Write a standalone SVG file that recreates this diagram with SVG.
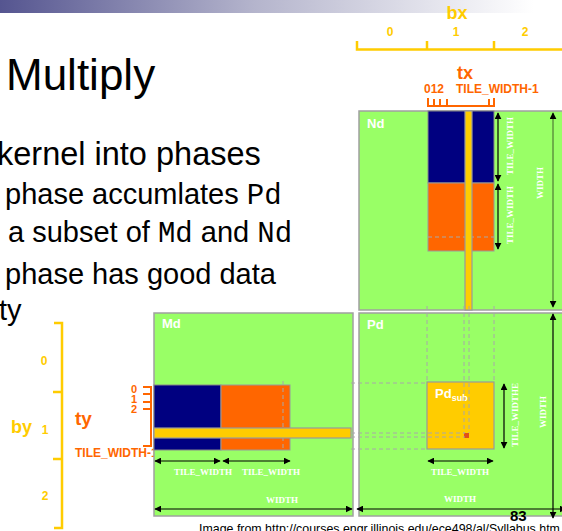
<svg xmlns="http://www.w3.org/2000/svg" width="562" height="531" viewBox="0 0 562 531">
  <defs>
    <linearGradient id="hdr" x1="0" y1="0" x2="1" y2="0">
      <stop offset="0" stop-color="#555590"/>
      <stop offset="0.45" stop-color="#b4b4cc"/>
      <stop offset="0.95" stop-color="#ffffff"/>
    </linearGradient>
    <marker id="ah" viewBox="0 0 10 10" refX="9" refY="5" markerWidth="7" markerHeight="7" markerUnits="userSpaceOnUse" orient="auto-start-reverse">
      <path d="M0,0 L10,5 L0,10 z" fill="#000"/>
    </marker>
    <style>
      .txt{font-family:"Liberation Sans",Arial,sans-serif;fill:#000}
      .mono{font-family:"Liberation Mono","Courier New",monospace}
      .mat{fill:#99FF66;stroke:#a0a0a0;stroke-width:1.5}
      .blue{fill:#000080;stroke:#888;stroke-width:1}
      .org{fill:#FF6600;stroke:#999;stroke-width:1}
      .gold{fill:#FFCC00;stroke:#999;stroke-width:1.2}
      .lbl{font-family:"Liberation Sans",Arial,sans-serif;font-weight:bold;fill:#fff;font-size:13px}
      .dim{font-family:"Liberation Serif","Times New Roman",serif;font-weight:bold;fill:#fff;font-size:9px}
      .arr{stroke:#000;stroke-width:1.2;fill:none;marker-start:url(#ah);marker-end:url(#ah)}
      .dash{stroke:#a8a8a8;stroke-width:1;stroke-dasharray:4 3;fill:none}
      .gl{stroke:#FFCC00;stroke-width:2.5;fill:none}
      .ol{stroke:#FF6600;stroke-width:2;fill:none}
      .gt{font-family:"Liberation Sans",Arial,sans-serif;font-weight:bold;fill:#FFCC00}
      .ot{font-family:"Liberation Sans",Arial,sans-serif;font-weight:bold;fill:#FF6600}
    </style>
  </defs>

  <rect width="562" height="531" fill="#fff"/>
  <rect id="header" x="0" y="0" width="562" height="13" fill="url(#hdr)"/>

  <g id="title">
    <text class="txt" x="6" y="90" font-size="44">Multiply</text>
  </g>

  <g id="bullets" class="txt">
    <text x="-3" y="165" font-size="32.5">kernel into phases</text>
    <text x="5" y="204" font-size="29">phase accumlates <tspan class="mono">Pd</tspan></text>
    <text x="8" y="242" font-size="29">a subset of <tspan class="mono">Md</tspan> and <tspan class="mono">Nd</tspan></text>
    <text x="5" y="284" font-size="29">phase has good data</text>
    <text x="-1" y="320" font-size="29">ty</text>
  </g>

  <g id="bx-axis">
    <path class="gl" d="M357,41 V49.5 H564 M427,41 V49.5 M494,41 V49.5"/>
    <text class="gt" x="457" y="19" font-size="18" text-anchor="middle">bx</text>
    <text class="gt" x="390" y="36" font-size="12" text-anchor="middle">0</text>
    <text class="gt" x="456" y="36" font-size="12" text-anchor="middle">1</text>
    <text class="gt" x="525" y="36" font-size="12" text-anchor="middle">2</text>
  </g>

  <g id="tx-axis">
    <path class="ol" d="M428,98 V106 H494 V98 M434,99 V106 M440,99 V106 M447,99 V106 M489,99 V106"/>
    <text class="ot" x="465" y="79" font-size="18" text-anchor="middle">tx</text>
    <text class="ot" x="424" y="93" font-size="12">012</text>
    <text class="ot" x="456" y="93" font-size="12">TILE_WIDTH-1</text>
  </g>

  <g id="by-axis">
    <path class="gl" d="M54,323 H62 V528 H54 M53,392 H62 M53,459 H62"/>
    <text class="gt" x="11" y="433" font-size="18">by</text>
    <text class="gt" x="44" y="365" font-size="12" text-anchor="middle">0</text>
    <text class="gt" x="45" y="434" font-size="12" text-anchor="middle">1</text>
    <text class="gt" x="45" y="500" font-size="12" text-anchor="middle">2</text>
  </g>

  <g id="ty-axis">
    <path class="ol" d="M143,387 H151 V446 H143 M143,394 H151 M143,402 H151 M143,409 H151"/>
    <text class="ot" x="75" y="425" font-size="19">ty</text>
    <text class="ot" x="137" y="393" font-size="11" text-anchor="end">0</text>
    <text class="ot" x="137" y="403" font-size="11" text-anchor="end">1</text>
    <text class="ot" x="137" y="413" font-size="11" text-anchor="end">2</text>
    <text class="ot" x="75" y="457" font-size="12">TILE_WIDTH-1</text>
  </g>

  <g id="Nd">
    <rect class="mat" x="359" y="111" width="210" height="199"/>
    <rect class="blue" x="428" y="111" width="66" height="72"/>
    <rect class="org" x="428" y="183" width="66" height="68"/>
    <line class="dash" x1="428" y1="237" x2="494" y2="237"/>
    <rect class="gold" x="465" y="111" width="7" height="199"/>
    <text class="lbl" x="367" y="128">Nd</text>
  </g>

  <g id="Md">
    <rect class="mat" x="154" y="313" width="199" height="203"/>
    <rect class="blue" x="154" y="385" width="67" height="65"/>
    <rect class="org" x="221" y="385" width="69" height="65"/>
    <line class="dash" x1="283" y1="381" x2="283" y2="450"/>
    <rect class="gold" x="154" y="428" width="197" height="10"/>
    <text class="lbl" x="162" y="328">Md</text>
  </g>

  <g id="Pd">
    <rect class="mat" x="359" y="313" width="210" height="203"/>
    <rect class="gold" x="427" y="382" width="67" height="67"/>
    <rect x="464" y="433" width="5" height="5" fill="#E0501A"/>
    <text class="lbl" x="367" y="329">Pd</text>
    <text class="lbl" x="435" y="398" font-size="15">Pd<tspan font-size="9" dy="3">sub</tspan></text>
  </g>

  <g id="connectors">
    <path class="dash" d="M427,306 V382 M494,306 V382 M464,306 V433 M469,306 V433"/>
    <path class="dash" d="M351,383 H427 M351,433 H465 M351,437 H465 M351,449 H427"/>
    <line class="arr" x1="498" y1="113" x2="498" y2="181"/>
    <line class="arr" x1="498" y1="184" x2="498" y2="249"/>
    <line x1="553" y1="113" x2="553" y2="307" stroke="#5a8f3c" stroke-width="1.4" marker-start="url(#ah)" marker-end="url(#ah)"/>
    <line class="arr" x1="155" y1="461" x2="220" y2="461"/>
    <line class="arr" x1="223" y1="461" x2="290" y2="461"/>
    <line class="arr" x1="155" y1="509" x2="352" y2="509"/>
    <line class="arr" x1="428" y1="461" x2="493" y2="461"/>
    <line class="arr" x1="504" y1="384" x2="504" y2="448"/>
    <line class="arr" x1="357" y1="509" x2="566" y2="509"/>
    <line class="arr" x1="553" y1="314" x2="553" y2="518"/>
  </g>

  <g id="dim-labels">
    <text class="dim" transform="translate(513,146) rotate(-90)" text-anchor="middle">TILE_WIDTH</text>
    <text class="dim" transform="translate(513,215) rotate(-90)" text-anchor="middle">TILE_WIDTH</text>
    <text class="dim" transform="translate(543,183) rotate(-90)" text-anchor="middle">WIDTH</text>
    <text class="dim" x="203" y="475" text-anchor="middle">TILE_WIDTH</text>
    <text class="dim" x="271" y="475" text-anchor="middle">TILE_WIDTH</text>
    <text class="dim" x="460" y="475" text-anchor="middle">TILE_WIDTH</text>
    <text class="dim" x="282" y="503" text-anchor="middle">WIDTH</text>
    <text class="dim" x="460" y="502" text-anchor="middle">WIDTH</text>
    <text class="dim" transform="translate(518,415) rotate(-90)" text-anchor="middle">TILE_WIDTHE</text>
    <text class="dim" transform="translate(546,412) rotate(-90)" text-anchor="middle">WIDTH</text>
  </g>

  <g id="footer">
    <text class="txt" x="510" y="521" font-size="15" font-weight="bold">83</text>
    <text class="txt" x="199" y="533" font-size="12.4">Image from http://courses.engr.illinois.edu/ece498/al/Syllabus.htm</text>
  </g>
</svg>
